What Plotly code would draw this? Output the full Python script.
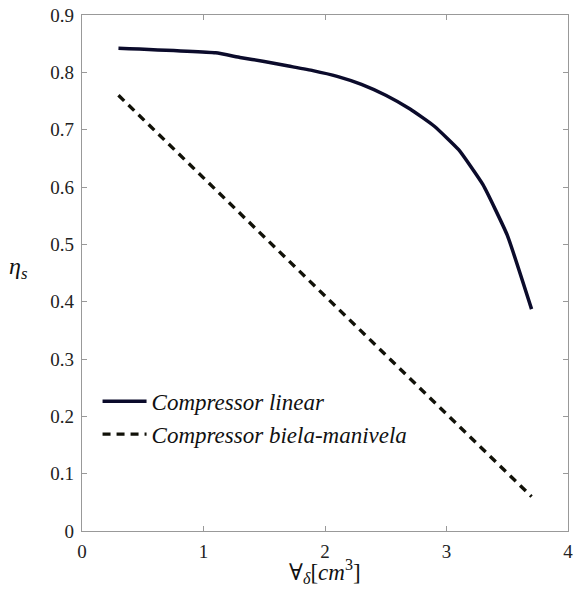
import plotly.graph_objects as go

x_linear = [0.3, 1.1, 1.3, 1.5, 1.7, 1.9, 2.1, 2.3, 2.5, 2.7, 2.9, 3.1, 3.3, 3.5, 3.7]
eta_linear = [0.842, 0.834, 0.826, 0.819, 0.811, 0.803, 0.793, 0.779, 0.760, 0.736, 0.706, 0.665, 0.604, 0.516, 0.387]

x_biela = [0.3, 3.7]
eta_biela = [0.760, 0.060]

x_ticks = [0, 1, 2, 3, 4]
y_ticks = [0, 0.1, 0.2, 0.3, 0.4, 0.5, 0.6, 0.7, 0.8, 0.9]

SERIF = "Liberation Serif, DejaVu Serif, serif"

fig = go.Figure()
fig.add_trace(go.Scatter(
    x=x_linear, y=eta_linear, mode="lines", name="<i>Compressor linear</i>",
    line=dict(color="#0b0b2b", width=3.5, shape="spline", smoothing=0.4),
))
fig.add_trace(go.Scatter(
    x=x_biela, y=eta_biela, mode="lines", name="<i>Compressor biela-manivela</i>",
    line=dict(color="#111108", width=3.4, dash="8px,6px"),
))

axis_common = dict(
    showgrid=False, zeroline=False, showline=True, linecolor="#999999", linewidth=1.2,
    mirror="ticks", ticks="inside", ticklen=5, tickcolor="#999999",
    ticklabeloverflow="allow", ticklabelstandoff=3,
    tickfont=dict(family=SERIF, size=19, color="#222222"),
)
fig.update_xaxes(range=[0, 4], tickvals=x_ticks, **axis_common)
fig.update_yaxes(range=[0, 0.9], tickvals=y_ticks, **axis_common)

fig.add_annotation(
    text="∀<sub><i>δ</i></sub>[<i>cm</i><sup>3</sup>]", xref="paper", yref="paper",
    x=0.5, y=-0.113, showarrow=False, xanchor="center", yanchor="bottom",
    font=dict(family=SERIF, size=23, color="#111111"),
)
fig.add_annotation(
    text="<i>η</i><sub><i>s</i></sub>", xref="paper", yref="paper",
    x=-0.155, y=0.51, showarrow=False, xanchor="left",
    font=dict(family=SERIF, size=24, color="#111111"),
)

fig.update_layout(
    width=577, height=589,
    margin=dict(l=82, r=4, t=15, b=58),
    plot_bgcolor="white", paper_bgcolor="white",
    font=dict(family=SERIF),
    legend=dict(x=0.032, y=0.293, xanchor="left", yanchor="top",
                bgcolor="rgba(0,0,0,0)",
                font=dict(family=SERIF, size=23, color="#111111"),
                itemwidth=44, tracegroupgap=0),
)

fig.write_html("out.html", config={"displayModeBar": False},
               post_script="document.body.style.margin='0';document.body.style.overflow='hidden';")
